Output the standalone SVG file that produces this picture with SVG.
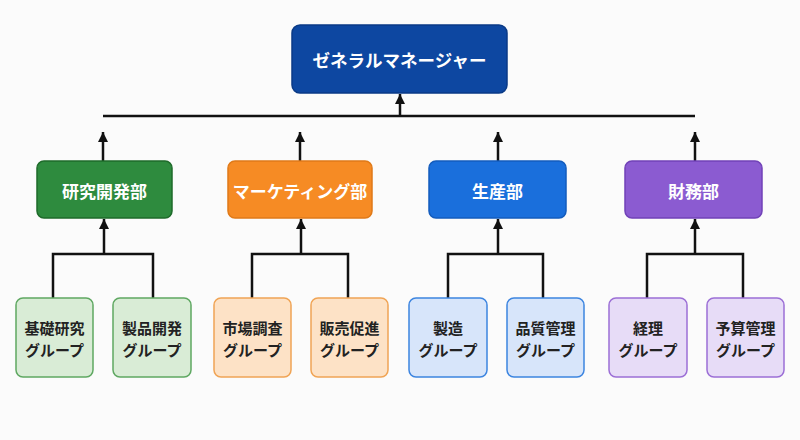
<svg xmlns="http://www.w3.org/2000/svg" width="800" height="440" viewBox="0 0 800 440">
<style>
text{font-family:"Noto Sans CJK JP","Noto Sans",sans-serif;font-weight:bold;text-anchor:middle;dominant-baseline:central}
.t1{fill:#fff;font-size:17.5px}
.t2{fill:#fff;font-size:17px}
.t3{fill:#222;font-size:15px}
.ln{fill:none;stroke:#111;stroke-width:2.5}
</style>
<defs>
<marker id="ah" viewBox="0 0 10 10" refX="10" refY="5" markerWidth="10" markerHeight="10" markerUnits="userSpaceOnUse" orient="auto">
<path d="M0,0 L10,5 L0,10 z" fill="#111"/>
</marker>
</defs>
<rect width="800" height="440" fill="#fbfbfb"/>
<g id="connectors">
<path class="ln" d="M103,116 H695"/>
<path class="ln" d="M400,116 V94" marker-end="url(#ah)"/>
<path class="ln" d="M103,161 V132" marker-end="url(#ah)"/>
<path class="ln" d="M300,161 V132" marker-end="url(#ah)"/>
<path class="ln" d="M498,161 V132" marker-end="url(#ah)"/>
<path class="ln" d="M695,161 V132" marker-end="url(#ah)"/>
<path class="ln" d="M53,298 V254 H153 V298"/>
<path class="ln" d="M104,254 V219" marker-end="url(#ah)"/>
<path class="ln" d="M252,298 V254 H348 V298"/>
<path class="ln" d="M301,254 V219" marker-end="url(#ah)"/>
<path class="ln" d="M448,298 V254 H543 V298"/>
<path class="ln" d="M498,254 V219" marker-end="url(#ah)"/>
<path class="ln" d="M647,298 V254 H743 V298"/>
<path class="ln" d="M695,254 V219" marker-end="url(#ah)"/>
</g>
<g id="gm">
<rect x="292" y="25" width="215" height="68" rx="8" fill="#0d47a1" stroke="#0a3a86" stroke-width="1.5"/>
<text class="t1" x="399.5" y="59">ゼネラルマネージャー</text>
</g>
<g id="rd">
<rect x="37" y="161" width="135" height="57" rx="7" fill="#2e8b3e" stroke="#1e6b2a" stroke-width="1.5"/>
<text class="t2" x="104.5" y="190">研究開発部</text>
</g>
<g id="mk">
<rect x="228" y="161" width="144" height="57" rx="7" fill="#f68b24" stroke="#e07a18" stroke-width="1.5"/>
<text class="t2" x="300" y="190">マーケティング部</text>
</g>
<g id="pr">
<rect x="429" y="161" width="137" height="57" rx="7" fill="#1a6fdc" stroke="#135cbd" stroke-width="1.5"/>
<text class="t2" x="497.5" y="190">生産部</text>
</g>
<g id="fi">
<rect x="625" y="161" width="137" height="57" rx="7" fill="#8b5bd1" stroke="#7142b8" stroke-width="1.5"/>
<text class="t2" x="693.5" y="190">財務部</text>
</g>
<g id="g1">
<rect x="16" y="298" width="77" height="79" rx="7" fill="#d9ecd6" stroke="#5fa862" stroke-width="1.5"/>
<text class="t3" x="54.5" y="327">基礎研究</text><text class="t3" x="54.5" y="349">グループ</text>
</g>
<g id="g2">
<rect x="113" y="298" width="78" height="79" rx="7" fill="#d9ecd6" stroke="#5fa862" stroke-width="1.5"/>
<text class="t3" x="152" y="327">製品開発</text><text class="t3" x="152" y="349">グループ</text>
</g>
<g id="g3">
<rect x="214" y="298" width="77" height="79" rx="7" fill="#fde2c6" stroke="#f0a455" stroke-width="1.5"/>
<text class="t3" x="252.5" y="327">市場調査</text><text class="t3" x="252.5" y="349">グループ</text>
</g>
<g id="g4">
<rect x="311" y="298" width="77" height="79" rx="7" fill="#fde2c6" stroke="#f0a455" stroke-width="1.5"/>
<text class="t3" x="349.5" y="327">販売促進</text><text class="t3" x="349.5" y="349">グループ</text>
</g>
<g id="g5">
<rect x="409" y="298" width="78" height="79" rx="7" fill="#d7e5fa" stroke="#3d85e0" stroke-width="1.5"/>
<text class="t3" x="448" y="327">製造</text><text class="t3" x="448" y="349">グループ</text>
</g>
<g id="g6">
<rect x="507" y="298" width="77" height="79" rx="7" fill="#d7e5fa" stroke="#3d85e0" stroke-width="1.5"/>
<text class="t3" x="545.5" y="327">品質管理</text><text class="t3" x="545.5" y="349">グループ</text>
</g>
<g id="g7">
<rect x="609" y="298" width="78" height="79" rx="7" fill="#e7dcf7" stroke="#9c6fd6" stroke-width="1.5"/>
<text class="t3" x="648" y="327">経理</text><text class="t3" x="648" y="349">グループ</text>
</g>
<g id="g8">
<rect x="707" y="298" width="77" height="79" rx="7" fill="#e7dcf7" stroke="#9c6fd6" stroke-width="1.5"/>
<text class="t3" x="745.5" y="327">予算管理</text><text class="t3" x="745.5" y="349">グループ</text>
</g>
</svg>
